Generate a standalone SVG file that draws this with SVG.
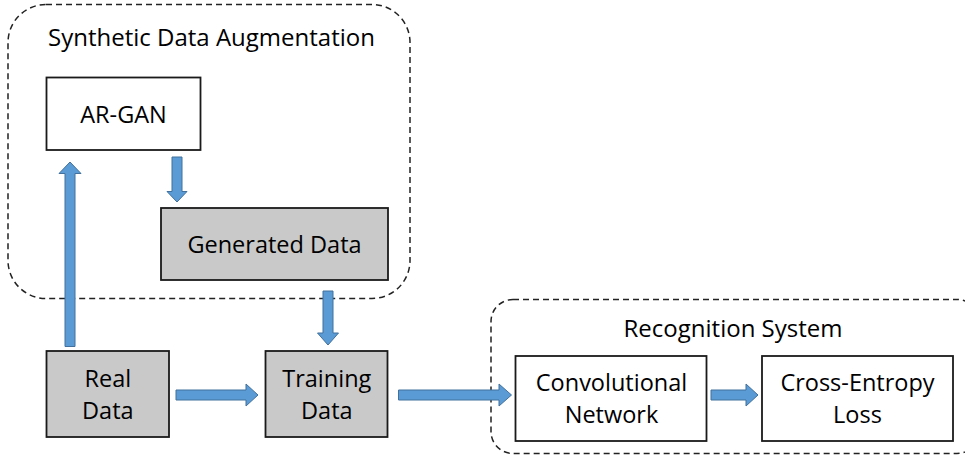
<svg xmlns="http://www.w3.org/2000/svg" width="965" height="456" viewBox="0 0 965 456">
<style>
text{font-family:"Open Sans","Liberation Sans",sans-serif;font-size:23.5px;fill:#000;text-anchor:middle}
.title{font-size:24px}
.grp{fill:none;stroke:#222;stroke-width:1.5;stroke-dasharray:6 4}
.box{fill:#fff;stroke:#1a1a1a;stroke-width:1.8}
.gray{fill:#c9c9c9}
.arr{fill:#5b9bd5;stroke:#41719c;stroke-width:1}
</style>
<rect width="965" height="456" fill="#fff"/>
<g id="group-synthetic">
<rect class="grp" x="8" y="4.5" width="402" height="294" rx="38"/>
<text class="title" x="211.5" y="46">Synthetic Data Augmentation</text>
</g>
<g id="group-recognition">
<rect class="grp" x="491" y="299.5" width="488" height="154" rx="22"/>
<text class="title" x="733" y="336.5">Recognition System</text>
</g>
<g id="node-argan">
<rect class="box" x="46.5" y="77.5" width="154" height="72.5"/>
<text x="123.5" y="122.5">AR-GAN</text>
</g>
<g id="node-generated">
<rect class="box gray" x="161" y="208" width="227" height="72"/>
<text x="274.5" y="253">Generated Data</text>
</g>
<g id="node-real">
<rect class="box gray" x="46.5" y="351" width="122.5" height="86"/>
<text x="107.8" y="386.5">Real</text>
<text x="107.8" y="419">Data</text>
</g>
<g id="node-training">
<rect class="box gray" x="265.5" y="351" width="122" height="86"/>
<text x="326.8" y="386.5">Training</text>
<text x="326.8" y="419">Data</text>
</g>
<g id="node-conv">
<rect class="box" x="515.5" y="356" width="191" height="85"/>
<text x="611.5" y="391">Convolutional</text>
<text x="611.5" y="423.3">Network</text>
</g>
<g id="node-ce">
<rect class="box" x="762" y="356" width="191" height="85"/>
<text x="857.5" y="391">Cross-Entropy</text>
<text x="857.5" y="423.3">Loss</text>
</g>
<g id="connectors">
<!-- Real Data up to AR-GAN -->
<polygon class="arr" points="65,346.5 75,346.5 75,173.5 81,173.5 70,162 59,173.5 65,173.5"/>
<!-- AR-GAN down to Generated -->
<polygon class="arr" points="172,157 182,157 182,191.5 187,191.5 177,202 167,191.5 172,191.5"/>
<!-- Generated down to Training -->
<polygon class="arr" points="323,291 333,291 333,333 338.5,333 328,345 317.5,333 323,333"/>
<!-- Real to Training -->
<polygon class="arr" points="176,390 246,390 246,384 258,395 246,406 246,400 176,400"/>
<!-- Training to Conv -->
<polygon class="arr" points="398.5,390 499,390 499,384 511.5,395 499,406 499,400 398.5,400"/>
<!-- Conv to CE -->
<polygon class="arr" points="711,390 746,390 746,384 758,395 746,406 746,400 711,400"/>
</g>
</svg>
